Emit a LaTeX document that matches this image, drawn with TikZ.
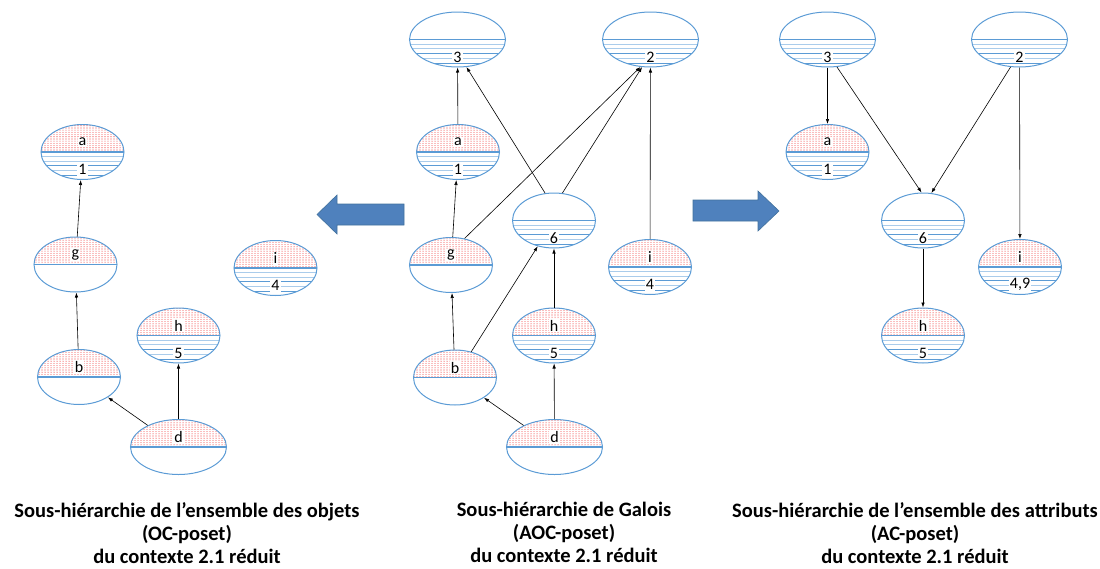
\documentclass[tikz,border=0pt]{standalone}
\usepackage{fontspec}
\setmainfont{Carlito}
\usetikzlibrary{shapes, arrows.meta, patterns}
\definecolor{cptblue}{RGB}{91, 155, 213}
\definecolor{hatchblue}{RGB}{170, 204, 235}
\definecolor{dotred}{RGB}{240, 70, 70}
\definecolor{fatblue}{RGB}{79, 129, 189}
\definecolor{fatline}{RGB}{65, 113, 156}

\pgfdeclarepatternformonly{reddots}{\pgfqpoint{-0.7pt}{-0.7pt}}{\pgfqpoint{0.7pt}{0.7pt}}{\pgfqpoint{3pt}{2.2pt}}{%
    \pgfpathcircle{\pgfqpoint{0pt}{0pt}}{0.55pt}\pgfusepath{fill}}

% pieces of a concept ellipse
\newcommand\dotshalf{\fill[pattern=reddots, pattern color=dotred] (path picture bounding box.west) rectangle (path picture bounding box.north east);}
\newcommand\lineshalf{\foreach \k/\c in {4.5/hatchblue, 9/hatchblue, 13.5/cptblue, 18.5/hatchblue, 23.5/cptblue}
    \draw[\c, line width=0.9pt] ([yshift=-\k pt]path picture bounding box.west) -- ([yshift=-\k pt]path picture bounding box.east);}
\newcommand\splitline{\draw[cptblue, line width=1.2pt] (path picture bounding box.west) -- (path picture bounding box.east);}

\begin{document}
\begin{tikzpicture}[x=1pt, y=-1pt,
        cpt/.style={ellipse, draw=cptblue, line width=1pt, minimum width=83pt, minimum height=55pt, inner sep=0pt},
        wide/.style={minimum width=96pt},
        full/.style={path picture={\dotshalf\lineshalf\splitline}},
        extent/.style={path picture={\dotshalf\splitline}},
        intent/.style={path picture={\lineshalf\splitline}},
        lbl/.style={fill=white, inner sep=1pt, anchor=base, font=\fontsize{16}{16}\selectfont},
        obj/.style={label={[lbl, yshift=10pt]center:#1}},
        att/.style={label={[lbl, yshift=-17.5pt]center:#1}},
        link/.style={-{Latex[length=5pt, width=3.5pt]}, line width=0.6pt},
        caption/.style={align=center, anchor=north, inner sep=0pt, font=\bfseries\fontsize{20.5}{23}\selectfont},
        fatarrow/.style={fill=fatblue, draw=fatline, line width=0.6pt}
    ]
    \useasboundingbox (0, 0) rectangle (1100, 568);

    % OC-poset
    \node[cpt, full, obj=a, att=1] (oc-a) at (82.5, 152) {};
    \node[cpt, extent, obj=g] (oc-g) at (75.5, 264.5) {};
    \node[cpt, extent, obj=b] (oc-b) at (79, 377) {};
    \node[cpt, full, obj=h, att=5] (oc-h) at (178.5, 335.5) {};
    \node[cpt, wide, extent, obj=d] (oc-d) at (178.5, 447) {};
    \node[cpt, full, obj=i, att=4] (oc-i) at (275.5, 268) {};

    \draw[link] (oc-g) -- (oc-a);
    \draw[link] (oc-b) -- (oc-g);
    \draw[link] (oc-d) -- (oc-b);
    \draw[link] (oc-d) -- (oc-h);

    % AOC-poset
    \node[cpt, wide, intent, att=3] (aoc-3) at (457.5, 39.5) {};
    \node[cpt, wide, intent, att=2] (aoc-2) at (650.5, 39.5) {};
    \node[cpt, full, obj=a, att=1] (aoc-a) at (458, 152) {};
    \node[cpt, intent, att=6] (aoc-6) at (554, 220.5) {};
    \node[cpt, extent, obj=g] (aoc-g) at (451, 265) {};
    \node[cpt, full, obj=i, att=4] (aoc-i) at (650, 267) {};
    \node[cpt, full, obj=h, att=5] (aoc-h) at (554, 335.5) {};
    \node[cpt, extent, obj=b] (aoc-b) at (455, 377.5) {};
    \node[cpt, wide, extent, obj=d] (aoc-d) at (554.5, 447) {};

    \draw[link] (aoc-a) -- (aoc-3);
    \draw[link] (aoc-6.108) -- (aoc-3.-72);
    \draw[link] (aoc-g.63) -- (aoc-2.-110);
    \draw[link] (aoc-6.73) -- (aoc-2.-107);
    \draw[link] (aoc-i) -- (aoc-2);
    \draw[link] (aoc-g) -- (aoc-a);
    \draw[link] (aoc-b) -- (aoc-g);
    \draw[link] (aoc-b) -- (aoc-6);
    \draw[link] (aoc-h) -- (aoc-6);
    \draw[link] (aoc-d) -- (aoc-b);
    \draw[link] (aoc-d) -- (aoc-h);

    % AC-poset
    \node[cpt, wide, intent, att=3] (ac-3) at (827.5, 39.5) {};
    \node[cpt, wide, intent, att=2] (ac-2) at (1019.5, 39.5) {};
    \node[cpt, full, obj=a, att=1] (ac-a) at (827.5, 152) {};
    \node[cpt, intent, att=6] (ac-6) at (923, 220.5) {};
    \node[cpt, full, obj=i, att={4,9}] (ac-i) at (1020, 267) {};
    \node[cpt, full, obj=h, att=5] (ac-h) at (923, 335.5) {};

    \draw[link] (ac-3) -- (ac-a);
    \draw[link] (ac-3.-71) -- (ac-6.93);
    \draw[link] (ac-2.-108) -- (ac-6.73);
    \draw[link] (ac-2) -- (ac-i);
    \draw[link] (ac-6) -- (ac-h);

    % big arrows
    \draw[fatarrow] (404, 204) -- (337, 204) -- (337, 195) -- (317, 214.5) -- (337, 234) -- (337, 225) -- (404, 225) -- cycle;
    \draw[fatarrow] (693, 200) -- (758, 200) -- (758, 191) -- (779, 211) -- (758, 231) -- (758, 221) -- (693, 221) -- cycle;

    % captions
    \node[caption] (cap-oc) at (187, 502) {Sous-hiérarchie de l’ensemble des objets\\(OC-poset)\\du contexte 2.1 réduit};
    \node[caption] (cap-aoc) at (564, 502) {Sous-hiérarchie de Galois\\(AOC-poset)\\du contexte 2.1 réduit};
    \node[caption] (cap-ac) at (915, 502) {Sous-hiérarchie de l’ensemble des attributs\\(AC-poset)\\du contexte 2.1 réduit};
\end{tikzpicture}
\end{document}
